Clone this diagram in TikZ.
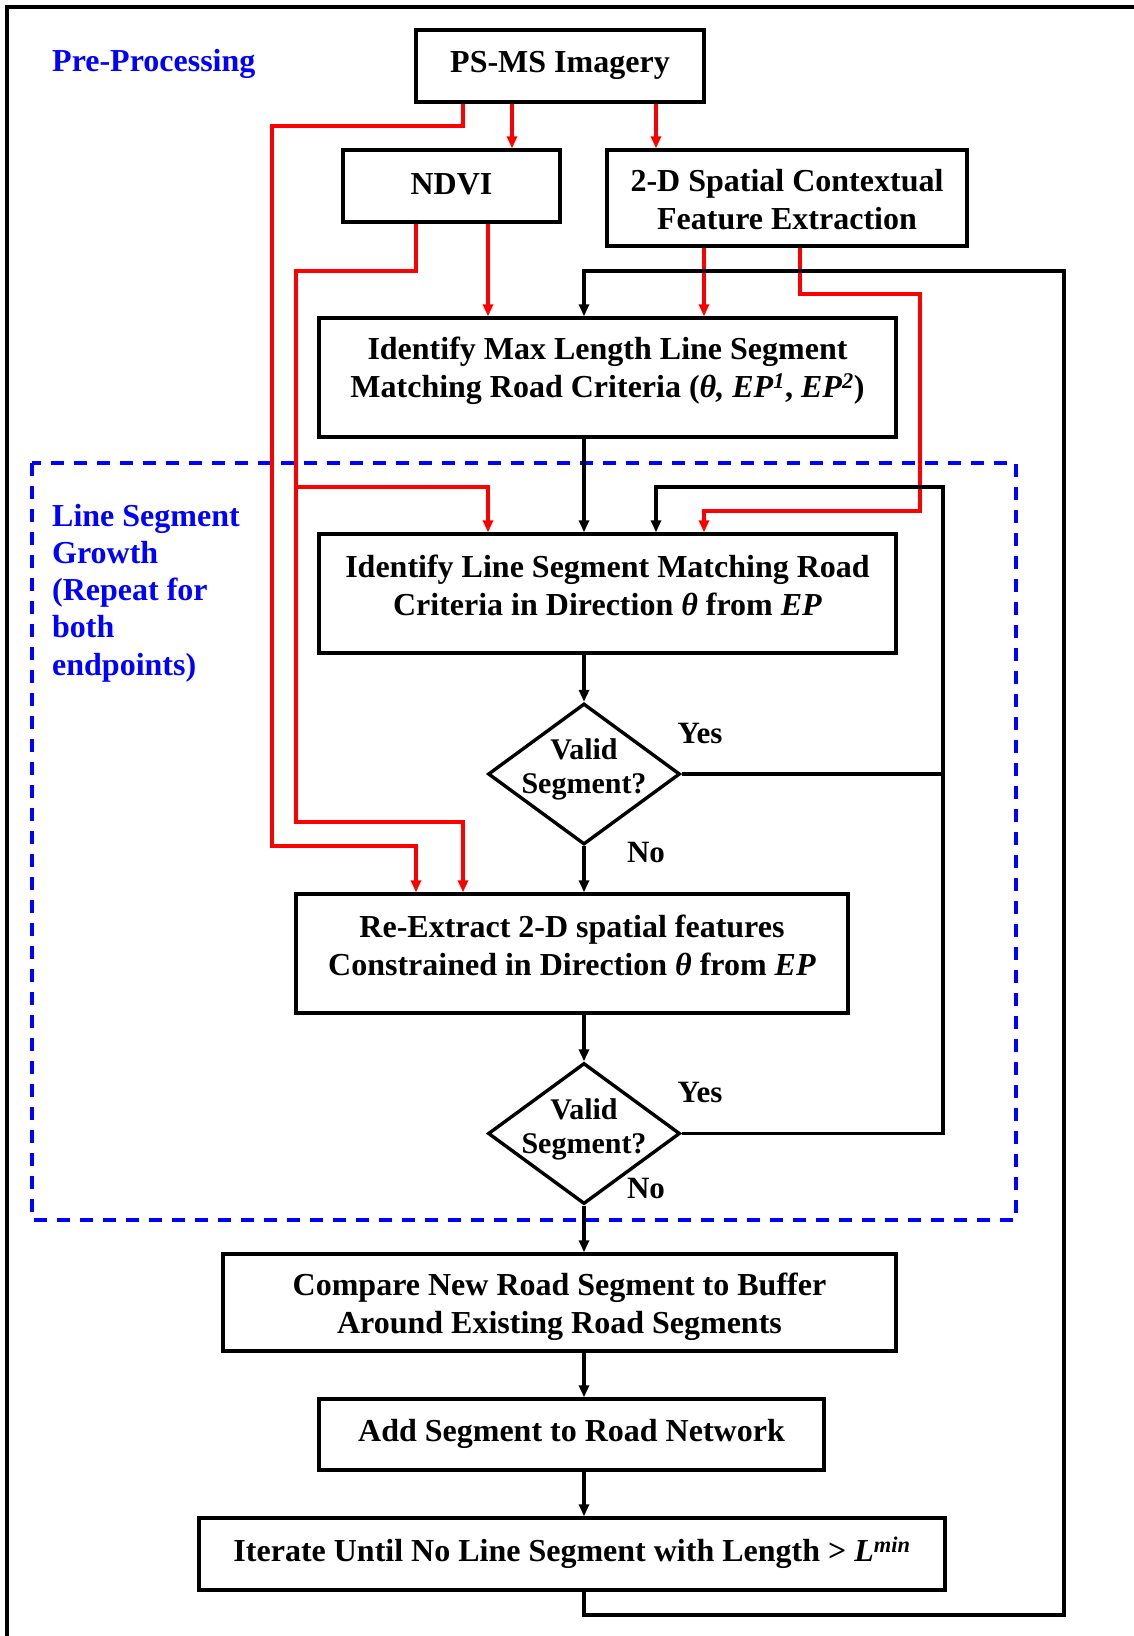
\documentclass[tikz,border=0pt]{standalone}
\usepackage{fontspec}
\setmainfont{Liberation Serif}
\usetikzlibrary{shapes.geometric,arrows.meta}
\definecolor{flowred}{RGB}{255,0,0}
\definecolor{flowblue}{RGB}{0,0,255}

\begin{document}
\begin{tikzpicture}[x=1pt,y=-1pt,
  box/.style={draw, line width=3.4pt, inner sep=0pt},
  dia/.style={draw, diamond, line width=3.4pt, inner sep=0pt},
  txt/.style={font=\fontsize{32}{38}\selectfont\bfseries, align=center, inner sep=0pt},
  dtxt/.style={font=\fontsize{30}{34}\selectfont\bfseries, align=center, inner sep=0pt},
  side/.style={font=\fontsize{31}{36}\selectfont\bfseries, inner sep=0pt},
  tag/.style={font=\fontsize{32}{37.25}\selectfont\bfseries, text=flowblue, align=left, inner sep=0pt, anchor=west},
  flow/.style={line width=3.3pt, black},
  feed/.style={line width=3.2pt, flowred},
  tip/.style={-{Triangle[length=12pt,width=10pt]}},
  zone/.style={draw=flowblue, line width=3.2pt, dash pattern=on 13pt off 10pt}
]
\useasboundingbox (0,0) rectangle (1134,1636);

% outer frame (left and top edges)
\draw[line width=3.4pt] (7,1636) -- (7,7) -- (1134,7);

% line segment growth region
\draw[zone] (32,463) rectangle (1016,1220);

% section titles
\node[tag] (pretag) at (52,64) {Pre-Processing};
\node[tag] (growtag) at (52,593) {Line Segment\\Growth\\(Repeat for\\both\\endpoints)};

% boxes
\node[box, minimum width=288pt, minimum height=72pt] (ps) at (560,66) {};
\node[txt] (pst) at (560,65) {PS-MS Imagery};

\node[box, minimum width=217pt, minimum height=72pt] (ndvi) at (451.5,186) {};
\node[txt] (ndvit) at (451.5,184) {NDVI};

\node[box, minimum width=360pt, minimum height=96pt] (sp) at (787,198) {};
\node[txt] (spt) at (787,200) {2-D Spatial Contextual\\Feature Extraction};

\node[box, minimum width=577pt, minimum height=119pt] (imax) at (607.5,377.5) {};
\node[txt] (imaxt) at (607.5,371) {Identify Max Length Line Segment\\Matching Road Criteria (\textit{θ, EP}\textsuperscript{\textit{1}}, \textit{EP}\textsuperscript{\textit{2}})};

\node[box, minimum width=577pt, minimum height=119pt] (iseg) at (607.5,593.5) {};
\node[txt] (isegt) at (607.5,585) {Identify Line Segment Matching Road\\Criteria in Direction \textit{θ} from \textit{EP}};

\node[dia, minimum width=192pt, minimum height=141pt] (d1) at (584,774) {};
\node[dtxt] (d1t) at (584,769) {Valid\\Segment?};

\node[box, minimum width=552pt, minimum height=119pt] (rex) at (572,953.5) {};
\node[txt] (rext) at (572,945) {Re-Extract 2-D spatial features\\Constrained in Direction \textit{θ} from \textit{EP}};

\node[dia, minimum width=192pt, minimum height=141pt] (d2) at (584,1133.5) {};
\node[dtxt] (d2t) at (584,1129) {Valid\\Segment?};

\node[box, minimum width=673pt, minimum height=97pt] (cmp) at (559.5,1302.5) {};
\node[txt] (cmpt) at (559.5,1307) {Compare New Road Segment to Buffer\\Around Existing Road Segments};

\node[box, minimum width=505pt, minimum height=71pt] (add) at (571.5,1434.5) {};
\node[txt] (addt) at (571.5,1434) {Add Segment to Road Network};

\node[box, minimum width=746pt, minimum height=72pt] (iter) at (572,1554) {};
\node[txt] (itert) at (572,1553) {Iterate Until No Line Segment with Length {\normalfont\bfseries >} \textit{L}\textsuperscript{\textit{min}}};

% decision labels
\node[side] (y1) at (700,733) {Yes};
\node[side] (n1) at (646,852) {No};
\node[side] (y2) at (700,1092) {Yes};
\node[side] (n2) at (646,1188) {No};

% junction points of the loops
\coordinate (loopr) at (943,487);
\coordinate (outr) at (1064,1615);

% pre-processing feeds (red)
\draw[feed, tip] (512,0 |- ps.south) -- (512,0 |- ndvi.north);
\draw[feed, tip] (656,0 |- ps.south) -- (656,0 |- sp.north);
\draw[feed, tip] (463,0 |- ps.south) -- (463,126) -- (272,126) -- (272,846) -- (416,846) -- (416,0 |- rex.north);
\draw[feed, tip] (488,0 |- ndvi.south) -- (488,0 |- imax.north);
\draw[feed, tip] (416,0 |- ndvi.south) -- (416,271) -- (296,271) -- (296,822) -- (463,822) -- (463,0 |- rex.north);
\draw[feed, tip] (296,487) -- (488,487) -- (488,0 |- iseg.north);
\draw[feed, tip] (704,0 |- sp.south) -- (704,0 |- imax.north);
\draw[feed, tip] (800,0 |- sp.south) -- (800,294) -- (920,294) -- (920,511) -- (704,511) -- (704,0 |- iseg.north);

% main flow (black)
\draw[flow, tip] (imax.south -| 584,0) -- (iseg.north -| 584,0);
\draw[flow, tip] (iseg.south -| 584,0) -- (d1.north);
\draw[flow, tip] (d1.south) -- (rex.north -| 584,0);
\draw[flow, tip] (rex.south -| 584,0) -- (d2.north);
\draw[flow, tip] (d2.south) -- (cmp.north -| 584,0);
\draw[flow, tip] (cmp.south -| 584,0) -- (add.north -| 584,0);
\draw[flow, tip] (add.south -| 584,0) -- (iter.north -| 584,0);

% "Yes" loops back to the line segment search
\draw[flow] (d1.east) -- (d1.east -| loopr);
\draw[flow, tip] (d2.east) -- (d2.east -| loopr) -- (loopr) -- (656,487) -- (656,0 |- iseg.north);

% outer iteration loop
\draw[flow, tip] (iter.south -| 584,0) -- (584,1615) -- (outr) -- (1064,271) -- (584,271) -- (imax.north -| 584,0);
\end{tikzpicture}
\end{document}
